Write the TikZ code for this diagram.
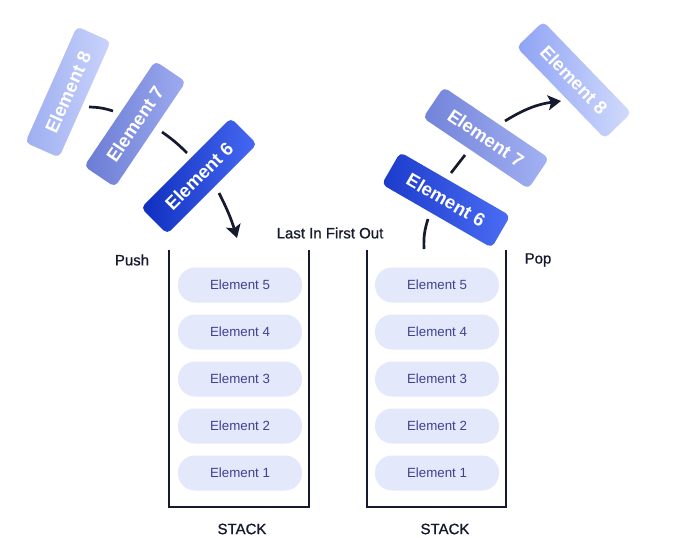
\documentclass[tikz,border=0pt]{standalone}
\usepackage{fontspec}
\setmainfont{Liberation Sans}
\newfontfamily\medfont[FakeBold=0.9]{Liberation Sans}
\usetikzlibrary{arrows.meta}
\definecolor{pillfill}{HTML}{E3E8FB}
\definecolor{pilltext}{HTML}{40418F}
\definecolor{ink}{HTML}{161A2E}
\definecolor{le8a}{HTML}{9DAEF1}\definecolor{le8b}{HTML}{CAD3FB}
\definecolor{le7a}{HTML}{6A7BD4}\definecolor{le7b}{HTML}{9DABEF}
\definecolor{le6a}{HTML}{0F2EBF}\definecolor{le6b}{HTML}{4669F2}
\definecolor{re6a}{HTML}{1B3BCB}\definecolor{re6b}{HTML}{4B6CF3}
\definecolor{re7a}{HTML}{7282D8}\definecolor{re7b}{HTML}{A3B2F3}
\definecolor{re8a}{HTML}{8EA2F4}\definecolor{re8b}{HTML}{D2DBFC}
\tikzset{
  pill/.style={fill=pillfill, rounded corners=17pt, minimum width=124pt, minimum height=35pt, inner sep=0pt, text=pilltext, font=\fontsize{13.3}{15}\selectfont},
  elem/.style={rounded corners=5pt, minimum width=127pt, minimum height=37pt, inner sep=0pt, text=white, font=\fontsize{18.5}{20}\selectfont\bfseries},
  lbl/.style={text=ink, font=\medfont\fontsize{15}{17}\selectfont},
  wall/.style={draw=ink, line width=1.6pt},
  link/.style={draw=ink, line width=2.7pt},
  arr/.style={link, -{Stealth[length=13pt,width=15pt,inset=3pt]}}
}
\begin{document}
\begin{tikzpicture}[x=1pt,y=-1pt]
\useasboundingbox[fill=white] (0,0) rectangle (686,538);
% left stack
\draw[wall] (169,250) -- (169,507) -- (309,507) -- (309,250);
\node[pill] (l5) at (240,285) {Element 5};
\node[pill] (l4) at (240,332) {Element 4};
\node[pill] (l3) at (240,379) {Element 3};
\node[pill] (l2) at (240,426) {Element 2};
\node[pill] (l1) at (240,473) {Element 1};
\node[lbl] (ls) at (242,529) {STACK};
% right stack
\draw[wall] (367,250) -- (367,507) -- (506,507) -- (506,250);
\node[pill] (r5) at (437,285) {Element 5};
\node[pill] (r4) at (437,332) {Element 4};
\node[pill] (r3) at (437,379) {Element 3};
\node[pill] (r2) at (437,426) {Element 2};
\node[pill] (r1) at (437,473) {Element 1};
\node[lbl] (rs) at (445,529) {STACK};
% labels
\node[lbl] (push) at (132,260) {Push};
\node[lbl] (pop) at (538,260) {Pop};
\node[lbl] (lifo) at (330,233) {Last In First Out};
% left rotated elements
\node[elem, rotate=66, left color=le8a, right color=le8b] (le8) at (68,92) {Element 8};
\node[elem, rotate=56, left color=le7a, right color=le7b] (le7) at (135,124) {Element 7};
\node[elem, rotate=45, left color=le6a, right color=le6b] (le6) at (199,176) {Element 6};
% right rotated elements
\node[elem, rotate=-30, left color=re6a, right color=re6b] (re6) at (446,200) {Element 6};
\node[elem, rotate=-34, left color=re7a, right color=re7b] (re7) at (486,138) {Element 7};
\node[elem, rotate=-46, left color=re8a, right color=re8b] (re8) at (574,80) {Element 8};
% connectors left
\coordinate (a1) at (89,107); \coordinate (a2) at (113,111);
\coordinate (b1) at (162,132); \coordinate (b2) at (187,153);
\coordinate (c1) at (219,193); \coordinate (c2) at (237,238);
\draw[link] (a1) to[bend left=8] (a2);
\draw[link] (b1) to[bend left=5] (b2);
\draw[arr] (c1) to[bend left=5] (c2);
% connectors right
\coordinate (d1) at (424,249); \coordinate (d2) at (428,219);
\coordinate (e1) at (451,173); \coordinate (e2) at (465,155);
\coordinate (f1) at (505,121); \coordinate (f2) at (561,101);
\draw[link] (d1) to[bend left=10] (d2);
\draw[link] (e1) to (e2);
\draw[arr] (f1) to[bend left=12] (f2);
\end{tikzpicture}
\end{document}
